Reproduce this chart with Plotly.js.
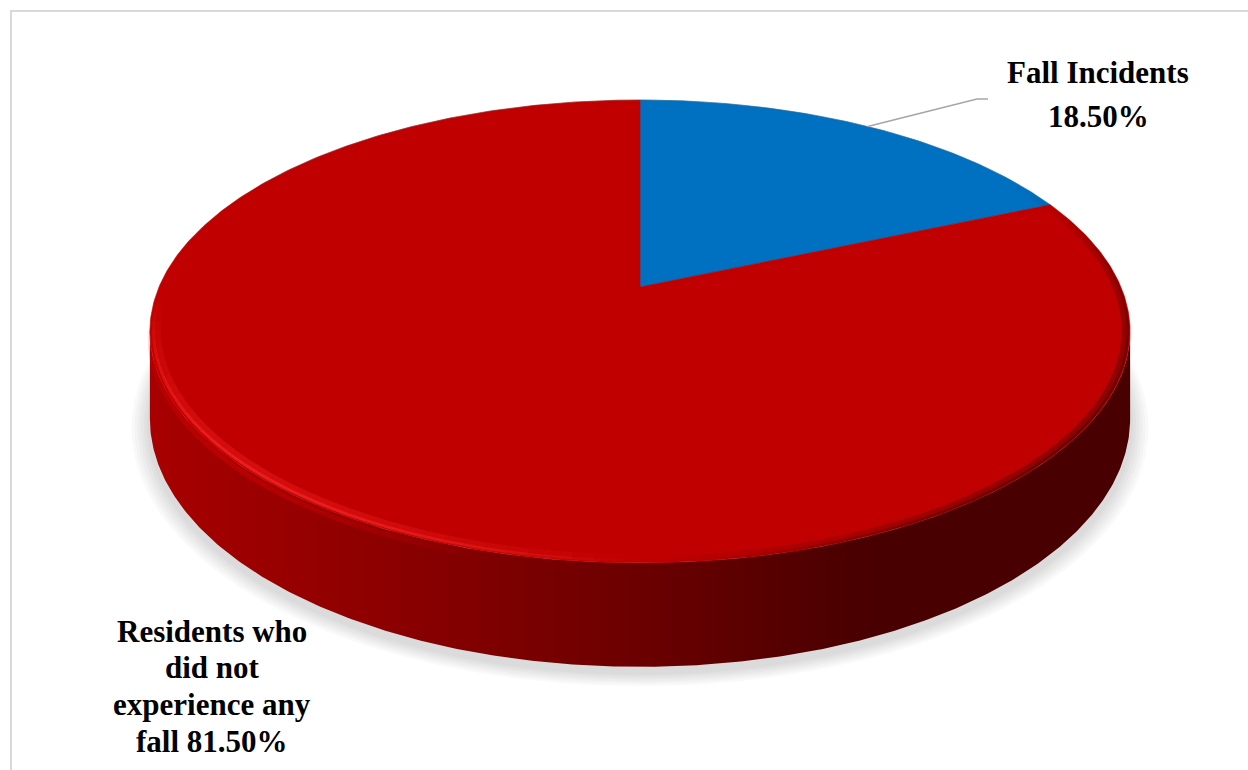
<!DOCTYPE html>
<html><head><meta charset="utf-8">
<script src="https://cdn.plot.ly/plotly-3.0.1.min.js"></script>
<style>html,body{margin:0;padding:0;background:#fff}#chart{width:1248px;height:770px}</style>
</head><body><div id="chart"></div>
<script>
// ---- data ----
const categories = ["Fall Incidents", "Residents who did not experience any fall"];
const values = [18.5, 81.5];
const labelLines = [["Fall Incidents", "{p}"], ["Residents who", "did not", "experience any", "fall {p}"]];
const topColors = ["#0070C0", "#C00000"];

// ---- styling / geometry ----
const sideScales = [
  [[0, "#005a9a"], [1, "#002a4a"]],
  [[0, "#a80000"], [0.26, "#8a0000"], [0.51, "#6a0000"], [0.72, "#4a0000"], [1, "#480000"]]
];
const G = {cx: 640, cy: 287, a: 481, b: 222.9, k: 0.192, d: 84};
const labelPos = [{x: 1098, y0: 72, dy: 44}, {x: 212, y0: 631, dy: 36.7}];
const leaderElbow = [[977, 99], [988, 99]];
const FONT = "Liberation Serif, Times New Roman, serif";

function proj(th, z, s, dy) {
  s = s || 1; dy = dy || 0;
  const t = th * Math.PI / 180;
  const u = Math.sin(t) * s, v = Math.cos(t) * s;
  const w = 1 + G.k * v;
  return [G.cx + G.a * u / w, G.cy - G.b * v / w + z * G.d / w + dy];
}
function arc(t0, t1, z, s, dy) {
  const n = Math.max(2, Math.ceil(Math.abs(t1 - t0) / 0.5));
  const xs = [], ys = [];
  for (let i = 0; i <= n; i++) {
    const p = proj(t0 + (t1 - t0) * i / n, z, s, dy);
    xs.push(p[0]); ys.push(p[1]);
  }
  return [xs, ys];
}

const total = values.reduce((a, b) => a + b, 0);
const starts = [], ends = [];
let acc = 0;
values.forEach(v => { starts.push(acc / total * 360); acc += v; ends.push(acc / total * 360); });

const traces = [];
// soft shadow under the pie
for (let i = 6; i >= 1; i--) {
  const [xs, ys] = arc(0, 360, 1, 1 + i * 0.006, 6);
  traces.push({x: xs, y: ys, type: "scatter", mode: "lines", fill: "toself",
    fillcolor: "rgba(0,0,0,0.025)", line: {width: 0}, hoverinfo: "skip"});
}
// visible side walls (front half)
const thR = Math.acos(-G.k) * 180 / Math.PI, thL = 360 - thR;
values.forEach((v, i) => {
  const a = Math.max(starts[i], thR), b = Math.min(ends[i], thL);
  if (b <= a) return;
  const top = arc(a, b, 0), bot = arc(b, a, 1);
  traces.push({x: top[0].concat(bot[0]), y: top[1].concat(bot[1]), type: "scatter", mode: "lines",
    fill: "toself", fillgradient: {type: "horizontal", colorscale: sideScales[i]},
    line: {width: 0}, hoverinfo: "skip"});
});
// top face slices
values.forEach((v, i) => {
  const [xs, ys] = arc(starts[i], ends[i], 0);
  traces.push({x: [G.cx].concat(xs, [G.cx]), y: [G.cy].concat(ys, [G.cy]), type: "scatter",
    mode: "lines", fill: "toself", fillcolor: topColors[i], line: {width: 0.6, color: topColors[i]},
    name: categories[i], hoverinfo: "skip"});
});
// bevel highlight / shade along rim, faded at both ends
function fadedRim(t0, t1, z, s, rgb, alpha, width) {
  const N = 40;
  for (let i = 0; i < N; i++) {
    const a0 = t0 + (t1 - t0) * i / N, a1 = t0 + (t1 - t0) * (i + 1) / N;
    const f = Math.sin(Math.PI * (i + 0.5) / N);
    const r = arc(a0, a1, z, s);
    traces.push({x: r[0], y: r[1], type: "scatter", mode: "lines",
      line: {color: "rgba(" + rgb + "," + (alpha * f).toFixed(3) + ")", width: width}, hoverinfo: "skip"});
  }
}
fadedRim(180, 268, 0, 0.985, "235,30,30", 0.45, 7);
fadedRim(180, 268, 0, 0.993, "245,35,35", 0.8, 3);
fadedRim(195, 262, 0.05, 1, "215,0,0", 0.5, 5);
fadedRim(60, 180, 0, 0.99, "60,0,0", 0.35, 7);
fadedRim(70, 175, 0, 0.996, "60,0,0", 0.5, 3);
(function () {
  const r = arc(300, 420, 0, 1.0);
  traces.push({x: r[0], y: r[1], type: "scatter", mode: "lines", line: {color: "rgba(90,90,90,0.3)", width: 1}, hoverinfo: "skip"});
})();
// leader line for first slice
const mid0 = proj((starts[0] + ends[0]) / 2, 0);
traces.push({x: [mid0[0], leaderElbow[0][0], leaderElbow[1][0]], y: [mid0[1], leaderElbow[0][1], leaderElbow[1][1]],
  type: "scatter", mode: "lines", line: {color: "#a6a6a6", width: 1.5}, hoverinfo: "skip"});

// labels
const annotations = [];
values.forEach((v, i) => {
  const p = v.toFixed(2) + "%";
  labelLines[i].forEach((ln, j) => {
    annotations.push({x: labelPos[i].x, y: labelPos[i].y0 + j * labelPos[i].dy, xref: "x", yref: "y",
      text: ln.replace("{p}", p), showarrow: false, xanchor: "center", yanchor: "middle",
      font: {family: FONT, size: 31, color: "#000000", weight: 700}});
  });
});

const layout = {
  width: 1248, height: 770, margin: {l: 0, r: 0, t: 0, b: 0},
  paper_bgcolor: "#ffffff", plot_bgcolor: "#ffffff", showlegend: false,
  xaxis: {range: [0, 1248], visible: false, fixedrange: true},
  yaxis: {range: [770, 0], visible: false, fixedrange: true},
  annotations: annotations,
  shapes: [{type: "rect", xref: "x", yref: "y", x0: 11, y0: 11, x1: 1270, y1: 800,
    line: {color: "#d9d9d9", width: 2}, fillcolor: "rgba(0,0,0,0)", layer: "below"}]
};
Plotly.newPlot("chart", traces, layout, {staticPlot: true, displayModeBar: false});
</script></body></html>
